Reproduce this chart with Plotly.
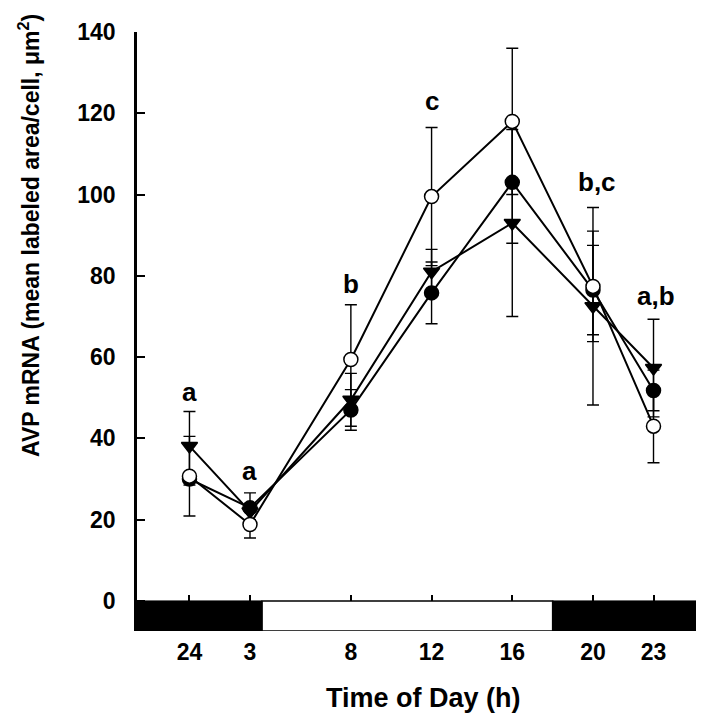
import plotly.graph_objects as go

# ---- data ----
hours = [0, 3, 8, 12, 16, 20, 23]
tick_labels = ["24", "3", "8", "12", "16", "20", "23"]

open_mean = [30.7, 18.8, 59.4, 99.5, 118.0, 77.4, 43.0]
open_err = [9.8, 3.3, 13.5, 17.0, 18.0, 13.6, 9.0]

filled_mean = [30.0, 22.9, 47.0, 75.8, 103.0, 76.5, 51.8]
filled_err = [1.5, 3.7, 5.0, 7.6, 15.0, 11.0, 5.0]

tri_mean = [38.1, 22.0, 49.5, 81.0, 93.0, 72.5, 57.3]
tri_err = [8.5, 2.0, 6.5, 5.5, 23.0, 24.3, 12.0]

sig_labels = ["a", "a", "b", "c", "d", "b,c", "a,b"]
sig_y = [51.5, 32, 78, 123, 143, 103, 75]
sig_x = [0, 3, 8, 12, 16.1, 20.2, 23.1]

light_on = 3.6
light_off = 18.0

FONT = "Liberation Sans"

fig = go.Figure()


def add_series(y, err, symbol, fill):
    fig.add_trace(go.Scatter(
        x=hours, y=y, mode="lines+markers",
        line=dict(color="black", width=2),
        marker=dict(symbol=symbol, size=14, color=fill,
                    line=dict(color="black", width=1.5)),
        error_y=dict(type="data", array=err, visible=True,
                     color="black", thickness=1.4, width=6),
        showlegend=False, cliponaxis=False,
    ))


add_series(tri_mean, tri_err, "triangle-down", "black")
add_series(filled_mean, filled_err, "circle", "black")
add_series(open_mean, open_err, "circle", "white")

# light/dark bar
ybot = -7.4
fig.add_shape(type="rect", xref="x", yref="y", x0=-2.6, x1=light_on, y0=ybot, y1=0,
              fillcolor="black", line=dict(color="black", width=1), layer="below")
fig.add_shape(type="rect", xref="x", yref="y", x0=light_on, x1=light_off, y0=ybot, y1=0,
              fillcolor="white", line=dict(color="black", width=1.5), layer="below")
fig.add_shape(type="rect", xref="x", yref="y", x0=light_off, x1=25.8, y0=ybot, y1=0,
              fillcolor="black", line=dict(color="black", width=1), layer="below")

for lx, ly, lt in zip(sig_x, sig_y, sig_labels):
    fig.add_annotation(x=lx, y=ly, text=lt, showarrow=False,
                       xanchor="center", yanchor="middle",
                       font=dict(family=FONT, size=26, color="black", weight="bold"))

fig.add_annotation(xref="paper", yref="paper", x=(21 - 129) / 573, y=(623 - 228) / 599,
                   xanchor="center", yanchor="middle",
                   text="AVP mRNA (mean labeled area/cell, μm<sup>2</sup>)",
                   textangle=-90, showarrow=False,
                   font=dict(family=FONT, size=23, color="black", weight="bold"))
fig.add_annotation(xref="paper", yref="paper", x=0.5, y=(623 - 690) / 599,
                   xanchor="center", yanchor="middle",
                   text="Time of Day (h)", showarrow=False,
                   font=dict(family=FONT, size=27, color="black", weight="bold"))

fig.update_layout(
    width=704, height=720,
    margin=dict(l=129, r=2, t=24, b=97),
    plot_bgcolor="white", paper_bgcolor="white",
    font=dict(family=FONT, color="black"),
    xaxis=dict(range=[-2.6, 25.8], tickmode="array", tickvals=hours, ticktext=tick_labels,
               ticks="inside", ticklen=6, tickwidth=1.5, tickcolor="black",
               showline=False, showgrid=False, zeroline=False,
               anchor="free", position=7.4 / 147.4,
               ticklabelstandoff=35,
               tickfont=dict(family=FONT, size=23, color="black", weight="bold")),
    yaxis=dict(range=[ybot, 140], tickmode="array", tickvals=[0, 20, 40, 60, 80, 100, 120, 140],
               ticks="inside", ticklen=8, tickwidth=1.5, tickcolor="black",
               showline=True, linewidth=2.5, linecolor="black",
               showgrid=False, zeroline=False, ticklabelstandoff=14,
               tickfont=dict(family=FONT, size=23, color="black", weight="bold")),
)

fig.write_html("out.html")
